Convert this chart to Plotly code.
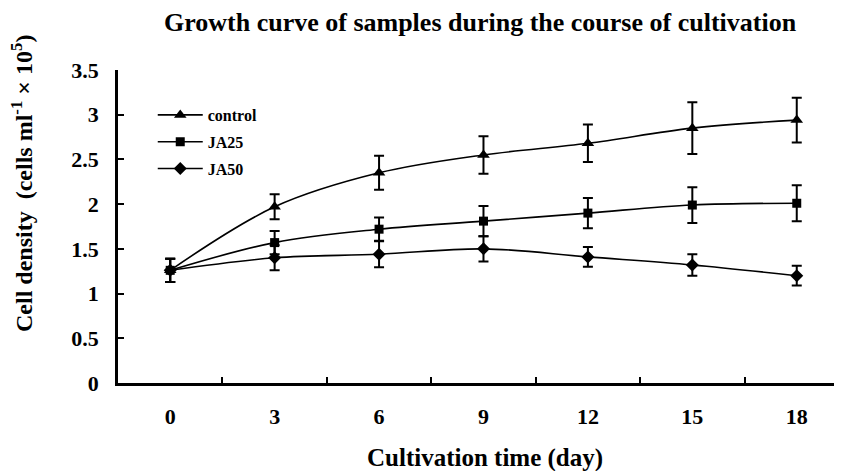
import plotly.graph_objects as go

days = [0, 3, 6, 9, 12, 15, 18]
tick_labels = ["0", "3", "6", "9", "12", "15", "18"]
y_ticks = [0, 0.5, 1, 1.5, 2, 2.5, 3, 3.5]
y_tick_labels = ["0", "0.5", "1", "1.5", "2", "2.5", "3", "3.5"]

control = [1.26, 1.97, 2.35, 2.55, 2.68, 2.85, 2.94]
control_err = [0.13, 0.14, 0.19, 0.21, 0.21, 0.29, 0.25]
ja25 = [1.26, 1.57, 1.72, 1.81, 1.90, 1.99, 2.01]
ja25_err = [0.13, 0.13, 0.13, 0.17, 0.17, 0.20, 0.20]
ja50 = [1.26, 1.40, 1.44, 1.50, 1.41, 1.32, 1.20]
ja50_err = [0.13, 0.14, 0.145, 0.14, 0.11, 0.12, 0.11]

FONT = "Liberation Serif"

fig = go.Figure()
series = [
    ("control", control, control_err, "triangle-up", 11),
    ("JA25", ja25, ja25_err, "square", 9),
    ("JA50", ja50, ja50_err, "diamond", 10),
]
for name, ys, errs, sym, sz in series:
    fig.add_trace(go.Scatter(
        x=days, y=ys, name=name, mode="lines+markers",
        legendgroup=name,
        line=dict(color="black", width=1.6, shape="spline"),
        marker=dict(symbol=sym, size=sz, color="black"),
        error_y=dict(type="data", array=errs, visible=True,
                     color="black", thickness=2, width=5),
    ))

fig.update_layout(
    width=834, height=463,
    paper_bgcolor="white", plot_bgcolor="white",
    margin=dict(l=110, r=0, t=62, b=88),
    font=dict(family=FONT, color="black", size=20, weight="bold"),
    title=dict(text="Growth curve of samples during the course of cultivation",
               x=0.566, xanchor="center", y=0.970, yanchor="middle",
               font=dict(family=FONT, size=26, weight="bold", color="black")),
    showlegend=True,
    legend=dict(x=0.048, y=0.9105, xanchor="left", yanchor="top",
                bgcolor="rgba(0,0,0,0)", traceorder="grouped",
                tracegroupgap=3, itemwidth=45,
                font=dict(family=FONT, size=16, weight="bold", color="black")),
    xaxis=dict(
        range=[-1.5, 19.3], showgrid=False, zeroline=False,
        showline=True, linecolor="black", linewidth=2.5,
        tickvals=days, ticktext=tick_labels, ticks="",
        ticklabelstandoff=12,
        tickfont=dict(family=FONT, size=22, weight="bold", color="black"),
        minor=dict(tickvals=[1.5, 4.5, 7.5, 10.5, 13.5, 16.5],
                   ticks="inside", ticklen=6, tickwidth=2, tickcolor="black",
                   showgrid=False),
    ),
    yaxis=dict(
        range=[0, 3.5], showgrid=False, zeroline=False,
        showline=True, linecolor="black", linewidth=2.5,
        tickvals=y_ticks, ticktext=y_tick_labels,
        ticks="inside", ticklen=6, tickwidth=2, tickcolor="black",
        ticklabelstandoff=12,
        tickfont=dict(family=FONT, size=22, weight="bold", color="black"),
    ),
    annotations=[
        dict(text="Cultivation time (day)", xref="paper", yref="paper",
             x=0.507, y=-0.240, xanchor="center", yanchor="middle",
             showarrow=False,
             font=dict(family=FONT, size=25, weight="bold", color="black")),
        dict(text="Cell density  (cells ml<sup>-1</sup> × 10<sup>5</sup>)",
             xref="paper", yref="paper", x=-0.1326, y=0.639,
             xanchor="center", yanchor="middle", textangle=-90,
             showarrow=False,
             font=dict(family=FONT, size=24, weight="bold", color="black")),
    ],
)

fig.write_html("out.html")
